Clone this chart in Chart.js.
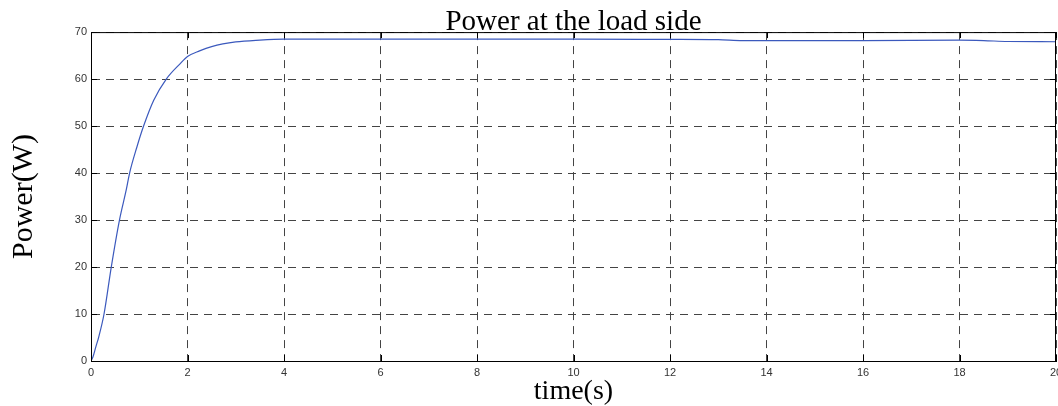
<!DOCTYPE html>
<html>
<head>
<meta charset="utf-8">
<title>Power at the load side</title>
<script src="https://cdn.jsdelivr.net/npm/chart.js@4.4.1/dist/chart.umd.min.js"></script>
<style>
  html, body { margin: 0; padding: 0; background: #fff; }
  #grafico { display: block; }
</style>
</head>
<body>
<canvas id="grafico" width="1058" height="406"></canvas>
<script>
// tiempo (s) y potencia (W)
const tiempos = [0, 0.04, 0.1, 0.16, 0.27, 0.42, 0.59, 0.73, 0.8, 0.95, 1.09, 1.3, 1.56, 1.84, 2.0, 2.25, 2.5, 3.0, 3.5, 4, 6, 8, 10, 12, 13, 13.5, 14, 16, 18, 18.5, 19, 20];
const potencias = [0, 0.85, 3, 5.1, 10, 20, 30, 36.4, 40, 45.5, 50, 55.5, 60, 63.2, 64.8, 66.0, 66.9, 67.9, 68.3, 68.5, 68.5, 68.5, 68.5, 68.45, 68.4, 68.2, 68.2, 68.2, 68.3, 68.2, 68.0, 67.95];
const ticksX = [0, 2, 4, 6, 8, 10, 12, 14, 16, 18, 20];
const ticksY = [0, 10, 20, 30, 40, 50, 60, 70];

const serif = "'Liberation Serif', 'Times New Roman', serif";
const sans = "'Liberation Sans', Arial, sans-serif";

// marco negro y marcas de tick hacia adentro, estilo matlab
const marco = {
  id: 'marco',
  afterDraw(chart) {
    const { ctx, chartArea: a, scales } = chart;
    ctx.save();
    ctx.strokeStyle = '#000';
    ctx.lineWidth = 1;
    ctx.setLineDash([]);
    ctx.strokeRect(a.left + 0.5, a.top + 0.5, a.right - a.left - 1, a.bottom - a.top);
    ctx.beginPath();
    ticksX.forEach(v => {
      const px = Math.round(scales.x.getPixelForValue(v)) + 0.5;
      ctx.moveTo(px, a.bottom); ctx.lineTo(px, a.bottom - 6);
      ctx.moveTo(px, a.top); ctx.lineTo(px, a.top + 6);
    });
    ticksY.forEach(v => {
      const py = Math.round(scales.y.getPixelForValue(v)) + 0.5;
      ctx.moveTo(a.left, py); ctx.lineTo(a.left + 6, py);
      ctx.moveTo(a.right, py); ctx.lineTo(a.right - 6, py);
    });
    ctx.stroke();
    ctx.restore();
  }
};

const ctx = document.getElementById('grafico').getContext('2d');
new Chart(ctx, {
  type: 'line',
  data: {
    datasets: [{
      label: 'Power',
      data: tiempos.map((t, i) => ({ x: t, y: potencias[i] })),
      borderColor: '#3b59bd',
      borderWidth: 1.2,
      pointRadius: 0,
      cubicInterpolationMode: 'monotone',
      fill: false
    }]
  },
  options: {
    responsive: false,
    animation: false,
    layout: { padding: { left: 0, right: 2, top: 0, bottom: 0 } },
    plugins: {
      legend: { display: false },
      tooltip: { enabled: false },
      title: {
        display: true,
        fullSize: false,
        text: 'Power at the load side',
        color: '#000',
        font: { family: serif, size: 29, weight: 'normal', lineHeight: 0.9 },
        padding: { top: 9, bottom: -3 }
      }
    },
    scales: {
      x: {
        type: 'linear',
        min: 0,
        max: 20,
        afterBuildTicks: s => { s.ticks = ticksX.map(v => ({ value: v })); },
        afterFit: s => { s.height = 45; s.paddingLeft = 0; s.paddingRight = 0; },
        ticks: { color: '#333', font: { family: sans, size: 11 }, padding: 5, maxRotation: 0 },
        grid: { color: '#444', lineWidth: 1, drawTicks: false },
        border: { display: true, color: '#000', dash: [8, 6] },
        title: {
          display: true,
          text: 'time(s)',
          color: '#000',
          font: { family: serif, size: 28, lineHeight: 1 },
          padding: 0
        }
      },
      y: {
        type: 'linear',
        min: 0,
        max: 70,
        afterBuildTicks: s => { s.ticks = ticksY.map(v => ({ value: v })); },
        afterFit: s => { s.width = 91; },
        ticks: { color: '#333', font: { family: sans, size: 11 }, padding: 4 },
        grid: { color: '#444', lineWidth: 1, drawTicks: false },
        border: { display: true, color: '#000', dash: [8, 6] },
        title: {
          display: true,
          text: 'Power(W)',
          color: '#000',
          font: { family: serif, size: 30, lineHeight: 1 },
          padding: { top: 9, bottom: 0 }
        }
      }
    }
  },
  plugins: [marco]
});
</script>
</body>
</html>
